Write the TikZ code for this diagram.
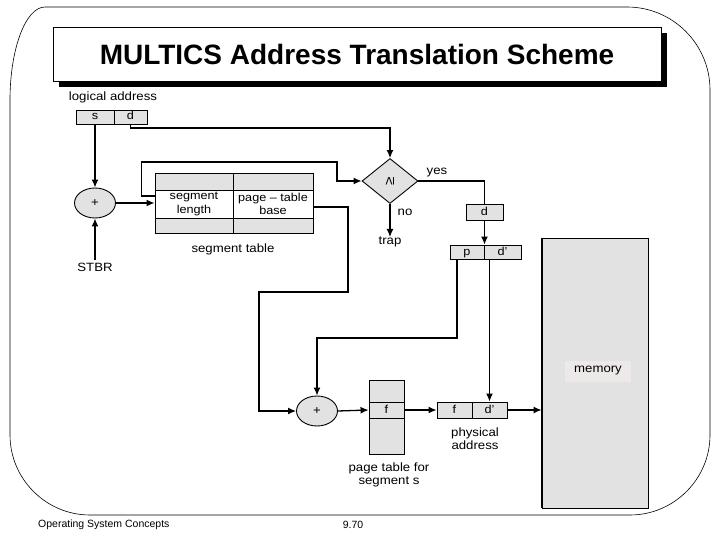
\documentclass[tikz,border=0pt]{standalone}
\usepackage{fontspec}
\setmainfont{Liberation Sans}
\newfontfamily\lblfont[FakeStretch=1.1]{Liberation Sans}
\usetikzlibrary{arrows.meta,shapes.geometric,calc}
\definecolor{boxgray}{HTML}{E2E2E2}
\definecolor{memlbl}{HTML}{EDE9E9}
\begin{document}
\begin{tikzpicture}[x=1pt,y=-1pt,
  wire/.style={line width=1.3pt},
  arr/.style={wire,-{Latex[length=8pt,width=7pt]}},
  cell/.style={draw,line width=0.9pt,fill=boxgray,inner sep=0pt,align=center,font=\lblfont\fontsize{11.5}{13.5}\selectfont},
  onel/.style={text height=8pt,text depth=2pt},
  lbl/.style={inner sep=0pt,align=center,font=\lblfont\fontsize{12}{13.5}\selectfont},
  adder/.style={ellipse,draw,line width=0.9pt,fill=boxgray,inner sep=0pt,minimum width=41pt,minimum height=30pt,font=\lblfont\fontsize{12}{13}\selectfont}]
\useasboundingbox (0,0) rectangle (720,540);
\fill[white] (0,0) rectangle (720,540);
% slide frame
\draw[line width=0.6pt] (45,7) -- (627,7) .. controls (672.8,7) and (710,44.2) .. (710,90)
  -- (710,435) .. controls (710,479) and (674,515) .. (630,515)
  -- (90,515) .. controls (46,515) and (10,479) .. (10,435)
  -- (10,100) .. controls (10,48.7) and (25.7,7) .. (45,7) -- cycle;
% title
\fill[black] (59,33) rectangle (667,87);
\node[draw,fill=white,line width=0.9pt,minimum width=608pt,minimum height=54pt,inner sep=0pt,
  font=\bfseries\fontsize{28}{30}\selectfont] (title) at (357,54) {MULTICS Address Translation Scheme};
% footer
\node[anchor=west,inner sep=0pt,font=\fontsize{10.5}{12}\selectfont] (foot1) at (38,525) {Operating System Concepts};
\node[inner sep=0pt,font=\fontsize{10.5}{12}\selectfont] (foot2) at (353,525) {9.70};
% logical address
\node[lbl] (la) at (113,97) {logical address};
\node[cell,onel,minimum width=38pt,minimum height=14pt] (s) at (95,117) {s};
\node[cell,onel,minimum width=33pt,minimum height=14pt] (d) at (130.5,117) {d};
% adder 1 and STBR
\node[adder] (add1) at (95,203) {+};
\node[lbl] (stbr) at (95,267) {STBR};
% segment table
\node[cell,minimum width=78pt,minimum height=17pt] (st11) at (194,181.5) {};
\node[cell,minimum width=80pt,minimum height=17pt] (st12) at (273,181.5) {};
\node[cell,fill=white,minimum width=78pt,minimum height=28pt] (st21) at (194,204) {segment\\length};
\node[cell,fill=white,minimum width=80pt,minimum height=28pt] (st22) at (273,204) {page – table\\base};
\node[cell,minimum width=78pt,minimum height=15pt] (st31) at (194,225.5) {};
\node[cell,minimum width=80pt,minimum height=15pt] (st32) at (273,225.5) {};
\node[lbl] (stl) at (233,249) {segment table};
% comparator
\node[draw,line width=0.9pt,fill=boxgray,diamond,minimum width=56pt,minimum height=45pt,inner sep=0pt,
  font=\lblfont\fontsize{14}{14}\selectfont] (cmp) at (390,181) {\rotatebox{90}{≥}};
\node[lbl] (yes) at (437,173) {yes};
\node[lbl] (no) at (405,212) {no};
\node[lbl,anchor=north] (trap) at (390,237) {trap};
% d box and p d' box
\node[cell,onel,minimum width=37pt,minimum height=16pt] (dbox) at (484.5,212) {d};
\node[cell,onel,minimum width=34pt,minimum height=14pt] (p) at (467,252) {p};
\node[cell,onel,minimum width=37pt,minimum height=14pt] (dp) at (502.5,252) {d’};
% adder 2, page table, physical address
\node[adder] (add2) at (317,411) {+};
\node[cell,minimum width=35pt,minimum height=74pt] (ptcol) at (386.5,417) {};
\node[cell,onel,minimum width=35pt,minimum height=16pt] (ptf) at (386.5,410) {f};
\node[lbl] (ptl) at (389,475) {page table for\\segment s};
\node[cell,onel,minimum width=35pt,minimum height=16pt] (pf) at (454.5,410) {f};
\node[cell,onel,minimum width=35pt,minimum height=16pt] (pdp) at (489.5,410) {d’};
\node[lbl] (pal) at (475,438.5) {physical\\address};
% memory
\node[draw,line width=0.8pt,fill=boxgray,minimum width=106pt,minimum height=270pt,inner sep=0pt] (mem) at (595,373) {};
\draw[line width=2.2pt] (mem.north west) -- (mem.south west);
\node[lbl,fill=memlbl,minimum width=66pt,minimum height=21pt] (meml) at (598,371) {memory};
% connectors
\draw[arr] (s.south) -- (add1.north);
\draw[arr] (stbr.north) ++(0,-3) -- (add1.south);
\draw[arr] (add1.east) -- (st21.west |- add1.east);
\draw[arr] (d.south) -- (d.south |- 0,128) -| (cmp.north);
\draw[arr] ([yshift=8pt]st21.west) -- ++(-13,0) |- (337,162) |- (cmp.west);
\draw[wire] (cmp.east) -| (dbox.north);
\draw[arr] (cmp.south) -- (trap.north);
\draw[arr] (dbox.south) -- (dbox.south |- p.north);
\draw[arr] ([yshift=-3pt]st22.east) -| (348,292) -| (259,330) |- (add2.west);
\draw[arr] ([xshift=-10pt]p.south) |- (add2.north |- 0,338) -- (add2.north);
\draw[arr] (pdp.north |- dp.south) -- (pdp.north);
\draw[arr] (add2.east) -- (ptf.west);
\draw[arr] (ptf.east) -- (pf.west);
\draw[arr] (pdp.east) -- (mem.west |- pdp.east);
\end{tikzpicture}
\end{document}
